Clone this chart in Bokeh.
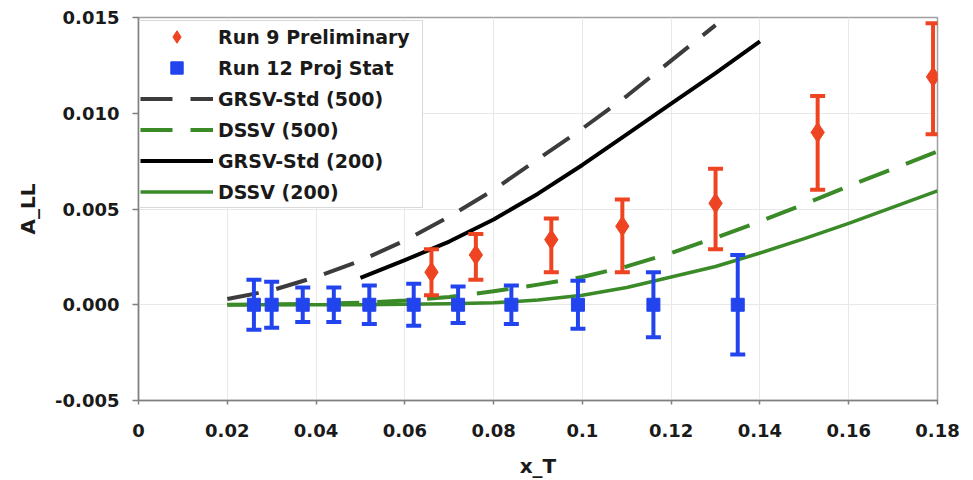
from bokeh.plotting import figure
from bokeh.models import (ColumnDataSource, Whisker, TeeHead, Legend, LegendItem,
                          FixedTicker, PrintfTickFormatter, CustomJSTickFormatter, Range1d)
from bokeh.embed import file_html
from bokeh.resources import INLINE

# Run 9 preliminary A_LL points with (asymmetric) error bar ends
run9_x = [0.066, 0.076, 0.093, 0.109, 0.130, 0.153, 0.179]
run9_y = [0.0017, 0.0026, 0.0034, 0.0041, 0.0053, 0.0090, 0.0119]
run9_upper = [0.0029, 0.0037, 0.0045, 0.0055, 0.0071, 0.0109, 0.0147]
run9_lower = [0.0005, 0.0013, 0.0017, 0.0017, 0.0029, 0.0060, 0.0089]

# Run 12 projected statistical uncertainties (centred at zero)
run12_x = [0.026, 0.030, 0.037, 0.044, 0.052, 0.062, 0.072, 0.084, 0.099, 0.116, 0.135]
run12_y = [0.0] * len(run12_x)
run12_err = [0.0013, 0.0012, 0.0009, 0.0009, 0.0010, 0.0011, 0.00095, 0.0010, 0.00125, 0.0017, 0.0026]

# Model curves
grsv500_x = [0.02, 0.03, 0.04, 0.05, 0.06, 0.07, 0.08, 0.09, 0.10, 0.11, 0.12, 0.13]
grsv500_y = [0.0003, 0.00075, 0.00145, 0.0023, 0.00335, 0.0046, 0.0060, 0.0076, 0.0092, 0.0109, 0.01275, 0.0146]

dssv500_x = [0.02, 0.03, 0.04, 0.05, 0.06, 0.07, 0.08, 0.09, 0.10, 0.11, 0.12, 0.13,
             0.14, 0.15, 0.16, 0.17, 0.18]
dssv500_y = [0.0, 0.00002, 0.00005, 0.0001, 0.00022, 0.0004, 0.0007, 0.00105, 0.00145,
             0.0020, 0.0027, 0.0035, 0.00435, 0.00525, 0.0062, 0.0071, 0.0080]

grsv200_x = [0.05, 0.06, 0.07, 0.08, 0.09, 0.10, 0.11, 0.12, 0.13, 0.14]
grsv200_y = [0.0014, 0.00233, 0.0033, 0.00445, 0.0058, 0.0073, 0.0089, 0.0105, 0.0121, 0.01375]

dssv200_x = [0.02, 0.03, 0.04, 0.05, 0.06, 0.07, 0.08, 0.09, 0.10, 0.11, 0.12, 0.13,
             0.14, 0.15, 0.16, 0.17, 0.18]
dssv200_y = [0.0, 0.0, 0.0, 0.0, 0.00002, 0.00005, 0.0001, 0.00025, 0.0005, 0.0009,
             0.00145, 0.0020, 0.0027, 0.00345, 0.00425, 0.0051, 0.00595]

x_ticks = [0.0, 0.02, 0.04, 0.06, 0.08, 0.10, 0.12, 0.14, 0.16, 0.18]
y_ticks = [-0.005, 0.0, 0.005, 0.010, 0.015]

RED = "#EE4422"
BLUE = "#2244EE"
GREEN = "#3A8A28"
BLACK = "#000000"
GREY = "#3C3C3C"
FONT = "DejaVu Sans"
TEXT = "#1a1a1a"

p = figure(width=973, height=480, output_backend="svg", toolbar_location=None,
           x_range=Range1d(0, 0.18), y_range=Range1d(-0.005, 0.015),
           min_border_left=138, min_border_right=36, min_border_top=17,
           min_border_bottom=80, background_fill_color="white",
           border_fill_color="white")

p.outline_line_color = "#a0a0a0"
p.outline_line_width = 1.5
p.grid.grid_line_color = "#e8e8e8"

# model curves
r_g500 = p.line(grsv500_x, grsv500_y, line_color=GREY, line_width=4, line_dash="32 18",
                line_join="round")
r_d500 = p.line(dssv500_x, dssv500_y, line_color=GREEN, line_width=4, line_dash="32 18",
                line_join="round")
r_g200 = p.line(grsv200_x, grsv200_y, line_color=BLACK, line_width=4, line_join="round")
r_d200 = p.line(dssv200_x, dssv200_y, line_color=GREEN, line_width=3.5, line_join="round")

# data points
src9 = ColumnDataSource(dict(x=run9_x, y=run9_y, upper=run9_upper, lower=run9_lower))
up12 = [v + e for v, e in zip(run12_y, run12_err)]
lo12 = [v - e for v, e in zip(run12_y, run12_err)]
src12 = ColumnDataSource(dict(x=run12_x, y=run12_y, upper=up12, lower=lo12))

for src, col in ((src9, RED), (src12, BLUE)):
    w = Whisker(source=src, base="x", upper="upper", lower="lower", dimension="height",
                line_color=col, line_width=4, level="glyph",
                upper_head=TeeHead(size=15, line_color=col, line_width=4),
                lower_head=TeeHead(size=15, line_color=col, line_width=4))
    p.add_layout(w)

r_run9 = p.scatter("x", "y", source=src9, marker="diamond", size=20,
                   fill_color=RED, line_color=RED)
r_run12 = p.scatter("x", "y", source=src12, marker="square", size=13,
                    fill_color=BLUE, line_color=BLUE)

# axes
p.xaxis.ticker = FixedTicker(ticks=x_ticks)
p.yaxis.ticker = FixedTicker(ticks=y_ticks)
p.xaxis.formatter = CustomJSTickFormatter(
    code="return tick.toFixed(2).replace(/0+$/, '').replace(/\\.$/, '');")
p.yaxis.formatter = PrintfTickFormatter(format="%.3f")

for ax in (p.xaxis[0], p.yaxis[0]):
    ax.axis_line_color = "#808080"
    ax.axis_line_width = 1.5
    ax.major_tick_line_color = "#808080"
    ax.major_tick_line_width = 1.5
    ax.major_tick_in = 0
    ax.minor_tick_line_color = None
    ax.major_label_text_font = FONT
    ax.major_label_text_font_style = "bold"
    ax.major_label_text_font_size = "18px"
    ax.major_label_text_color = TEXT
    ax.axis_label_text_font = FONT
    ax.axis_label_text_font_style = "bold"
    ax.axis_label_text_font_size = "20px"
    ax.axis_label_text_color = TEXT

p.xaxis.axis_label = "x_T"
p.yaxis.axis_label = "A_LL"
p.xaxis.major_tick_out = 4
p.xaxis.major_label_standoff = 19
p.xaxis.axis_label_standoff = 14
p.yaxis.major_tick_out = 6
p.yaxis.major_label_standoff = 13
p.yaxis.axis_label_standoff = 12

# tall legend rows with no gap so the markers are drawn at a readable size
legend = Legend(items=[
    LegendItem(label="Run 9 Preliminary", renderers=[r_run9]),
    LegendItem(label="Run 12 Proj Stat", renderers=[r_run12]),
    LegendItem(label="GRSV-Std (500)", renderers=[r_g500]),
    LegendItem(label="DSSV (500)", renderers=[r_d500]),
    LegendItem(label="GRSV-Std (200)", renderers=[r_g200]),
    LegendItem(label="DSSV (200)", renderers=[r_d200]),
], location=(1, 192), margin=0, padding=0, spacing=0,
    glyph_width=73, glyph_height=31, label_height=31, label_standoff=5,
    label_width=204,
    label_text_font=FONT, label_text_font_style="bold",
    label_text_font_size="19px", label_text_color=TEXT,
    border_line_color="#b4b4b4", border_line_width=1,
    background_fill_color="white", background_fill_alpha=1.0)
p.add_layout(legend)

open("out.html", "w").write(file_html(p, INLINE))
